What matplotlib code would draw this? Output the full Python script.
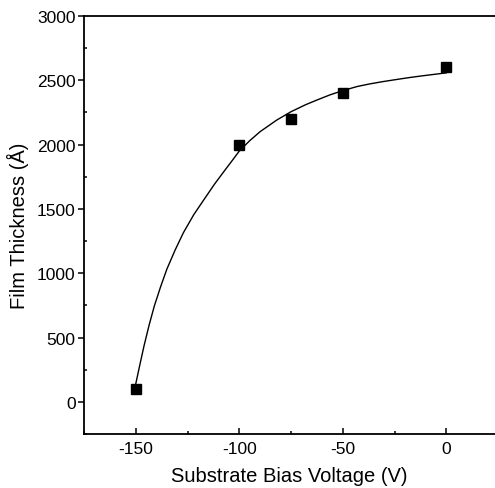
import matplotlib.pyplot as plt
from matplotlib.ticker import MultipleLocator

plt.rcParams["font.family"] = ["Liberation Sans", "DejaVu Sans"]
plt.rcParams["axes.unicode_minus"] = False

# measured points
bias_v = [-150, -100, -75, -50, 0]
thickness = [100, 2000, 2200, 2400, 2600]

# fit curve
fit_v = [-150, -148, -146, -143.5, -141, -138, -135, -131, -127, -122, -117,
         -112, -107, -103, -100, -95, -90, -82, -75, -68, -62, -56, -50, -43,
         -37, -31, -25, -18, -12, -6, 0]
fit_t = [140, 290, 436, 600, 747, 895, 1031, 1180, 1315, 1455, 1574,
         1692, 1800, 1885, 1950, 2030, 2100, 2190, 2256, 2310, 2350, 2388,
         2420, 2452, 2472, 2489, 2504, 2521, 2534, 2546, 2558]

fig = plt.figure(figsize=(4.95, 4.89), dpi=100)
ax = fig.add_axes([84 / 495, 1 - 435 / 489, 1 - 84 / 495, (435 - 17) / 489])

ax.plot(fit_v, fit_t, color="black", lw=1.0)
ax.plot(bias_v, thickness, ls="none", marker="s", ms=7.2, color="black")

ax.set_xlim(-175, 23.5)
ax.set_ylim(-250, 3000)
ax.xaxis.set_major_locator(MultipleLocator(50))
ax.xaxis.set_minor_locator(MultipleLocator(25))
ax.yaxis.set_major_locator(MultipleLocator(500))
ax.yaxis.set_minor_locator(MultipleLocator(250))

ax.tick_params(axis="x", which="major", direction="in", length=4, width=1.1,
               pad=5, labelsize=12.5)
ax.tick_params(axis="x", which="minor", direction="in", length=2.5, width=1.1)
ax.tick_params(axis="y", which="major", direction="out", length=4.5, width=1.1,
               pad=1.5, labelsize=12.5)
ax.tick_params(axis="y", which="minor", direction="in", length=2.5, width=1.1)

for side in ["left", "bottom", "top"]:
    ax.spines[side].set_linewidth(1.3)
ax.spines["right"].set_visible(False)

ax.set_xlabel("Substrate Bias Voltage (V)", fontsize=14.5, labelpad=7)
ax.set_ylabel("Film Thickness (Å)", fontsize=14.5, labelpad=6)

fig.savefig("out.png", dpi=100)
